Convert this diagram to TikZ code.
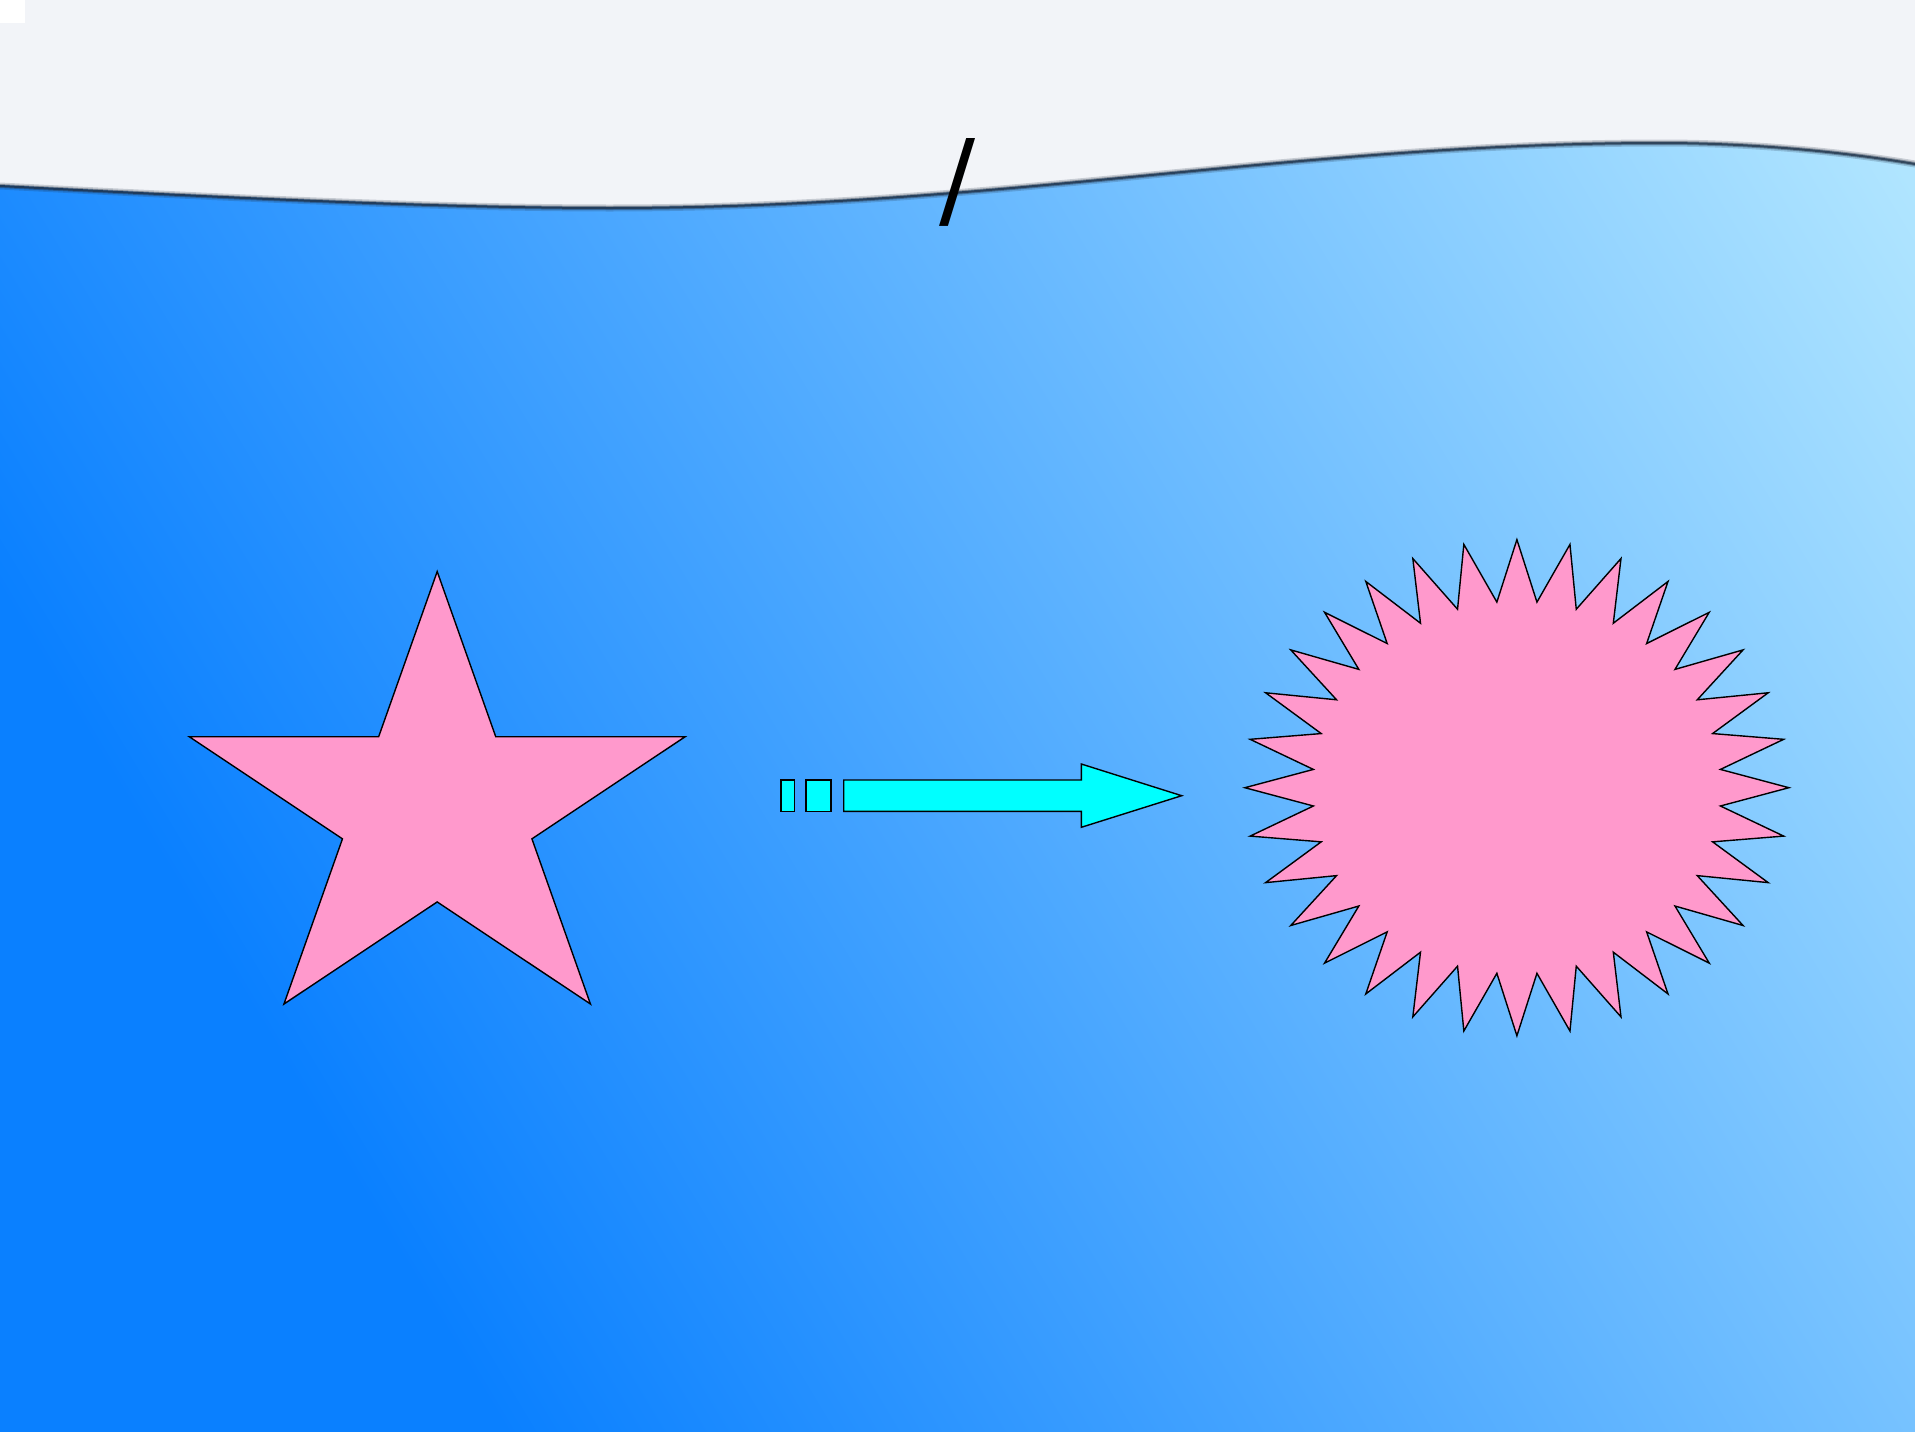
\documentclass[tikz,border=0pt]{standalone}
\usepackage{fontspec}
\newfontfamily\slashfont{DejaVu Sans}

\definecolor{bandgrey}{RGB}{242,244,248}
\definecolor{bgdark}{RGB}{10,128,255}
\definecolor{bglight}{RGB}{176,229,255}
\definecolor{starpink}{RGB}{255,153,204}
\definecolor{arrowcyan}{RGB}{0,255,255}
\definecolor{rimshadow}{RGB}{30,45,65}
\pgfdeclarehorizontalshading{bgshade}{100bp}{color(0bp)=(bgdark); color(34.2bp)=(bgdark); color(72.8bp)=(bglight); color(100bp)=(bglight)}

\begin{document}
\begin{tikzpicture}[x=1pt, y=-1pt,
    pinkshape/.style={fill=starpink, draw=black, line width=1.4pt},
    cyanshape/.style={fill=arrowcyan, draw=black, line width=1.4pt},
    slashmark/.style={inner sep=0pt, font=\slashfont\fontsize{107}{107}\selectfont},
    rim/.style={draw=rimshadow, line cap=round}
]
\useasboundingbox (0,0) rectangle (1915,1432);

% grey band and blue background
\fill[bandgrey] (0,0) rectangle (1915,1432);
\fill[white] (0,0) rectangle (25,23);
\begin{scope}
  \clip (0,185) .. controls (250,198) and (450,207) .. (610,207)
    .. controls (1000,207) and (1300,142) .. (1660,142)
    .. controls (1760,142) and (1850,152) .. (1915,163)
    -- (1915,1432) -- (0,1432) -- cycle;
  \shade[shading=bgshade, shading angle=31] (-242.5,-484) rectangle (2157.5,1916);
\end{scope}

% shadow along the wave
\foreach \w/\o in {7/0.2, 4/0.4, 2/0.7} {
  \draw[rim, line width=\w pt, opacity=\o] (0,186) .. controls (250,199) and (450,208) .. (610,208)
    .. controls (1000,208) and (1300,143) .. (1660,143)
    .. controls (1760,143) and (1850,153) .. (1915,164);
}

% title mark
\node[slashmark] (title) at (957.5,182) {/};

% five-pointed star
\begin{scope}[shift={(437.2,810.6)}, yscale=0.917]
  \draw[pinkshape] (-90:260.7) \foreach \i in {0,...,4} { -- ({-54+72*\i}:99.6) -- ({-18+72*\i}:260.7) } -- cycle;
\end{scope}

% striped arrow
\draw[cyanshape] (781,780) rectangle (794.3,811.3);
\draw[cyanshape] (806,780) rectangle (831,811.3);
\draw[cyanshape] (843.7,780) -- (1081.3,780) -- (1081.3,764) -- (1181.7,795.7)
  -- (1081.3,827.3) -- (1081.3,811.3) -- (843.7,811.3) -- cycle;

% burst with 32 points
\begin{scope}[shift={(1516.9,787.7)}, yscale=0.912]
  \draw[pinkshape] (-90:272) \foreach \i in {0,...,31} { -- ({-84.375+11.25*\i}:204.5) -- ({-78.75+11.25*\i}:272) } -- cycle;
\end{scope}
\end{tikzpicture}
\end{document}
